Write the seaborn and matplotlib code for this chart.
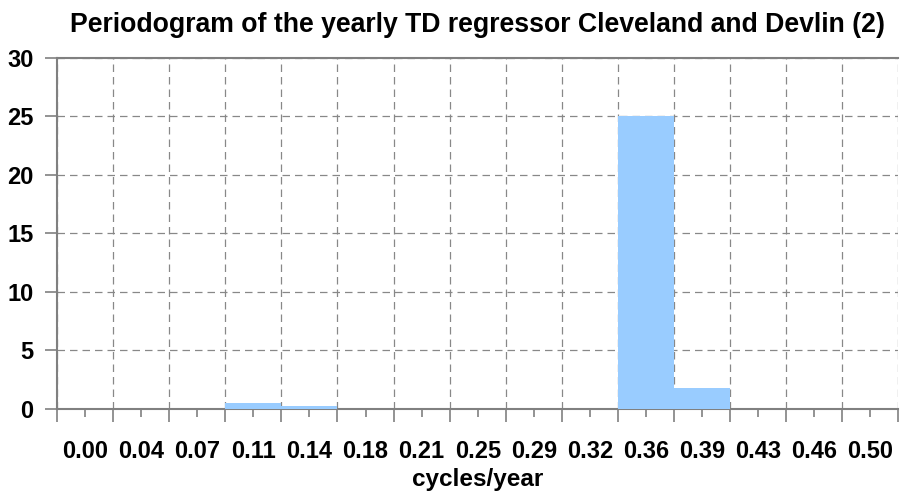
import numpy as np
import pandas as pd
import seaborn as sns
import matplotlib.pyplot as plt
from matplotlib.ticker import FixedLocator

# --- data ---
freq_labels = ["0.00", "0.04", "0.07", "0.11", "0.14", "0.18", "0.21", "0.25",
               "0.29", "0.32", "0.36", "0.39", "0.43", "0.46", "0.50"]
periodogram = [0.0, 0.0, 0.0, 0.55, 0.28, 0.0, 0.0, 0.0,
               0.0, 0.0, 25.05, 1.8, 0.0, 0.0, 0.0]
y_ticks = [0, 5, 10, 15, 20, 25, 30]

sns.set_theme(style="white")
plt.rcParams['font.family'] = ['Liberation Sans', 'DejaVu Sans']
plt.rcParams['text.color'] = 'black'
plt.rcParams['axes.labelcolor'] = 'black'

df = pd.DataFrame({"freq": freq_labels, "value": periodogram})

fig = plt.figure(figsize=(9, 4.93), dpi=100)
ax = fig.add_axes([0.0633, 0.1704, 0.935, 0.712])

sns.barplot(data=df, x="freq", y="value", color="#99CCFF", width=1.0,
            saturation=1, edgecolor="none", linewidth=0, ax=ax, zorder=3)

n = len(freq_labels)
ax.set_xlim(-0.5, n - 0.5)
ax.set_ylim(0, 30)

# category boundaries carry the grid, centres carry the labels
ax.xaxis.set_major_locator(FixedLocator(np.arange(n + 1) - 0.5))
ax.xaxis.set_minor_locator(FixedLocator(np.arange(n)))
ax.set_xticklabels([], minor=False)
ax.set_xticklabels(freq_labels, minor=True)
ax.tick_params(axis="x", which="major", length=9, width=1.2, color="#808080",
               direction="out", bottom=True)
ax.tick_params(axis="x", which="minor", length=6, width=1.2, color="#808080",
               direction="out", bottom=True, pad=16, labelsize=17,
               labelcolor="black")
for t in ax.get_xticklabels(minor=True):
    t.set_fontweight("bold")

ax.set_yticks(y_ticks)
ax.set_yticklabels([str(v) for v in y_ticks], fontweight="bold")
ax.tick_params(axis="y", length=9, width=1.2, color="#808080", direction="out",
               left=True, pad=8, labelsize=17, labelcolor="black")

ax.grid(True, which="major", axis="both", color="#888888", linestyle=(0, (6, 4)),
        linewidth=0.9, zorder=0)
ax.set_axisbelow(True)

for side in ["left", "bottom", "top"]:
    ax.spines[side].set_visible(True)
    ax.spines[side].set_color("#808080")
    ax.spines[side].set_linewidth(1.5)
ax.spines["right"].set_visible(False)

ax.set_xlabel("cycles/year", fontsize=17.5, fontweight="bold", labelpad=4,
              color="black")
ax.set_ylabel("")
ax.set_title("Periodogram of the yearly TD regressor Cleveland and Devlin (2)",
             fontsize=19.2, fontweight="bold", pad=19, color="black")

fig.savefig("out.png", dpi=100)
